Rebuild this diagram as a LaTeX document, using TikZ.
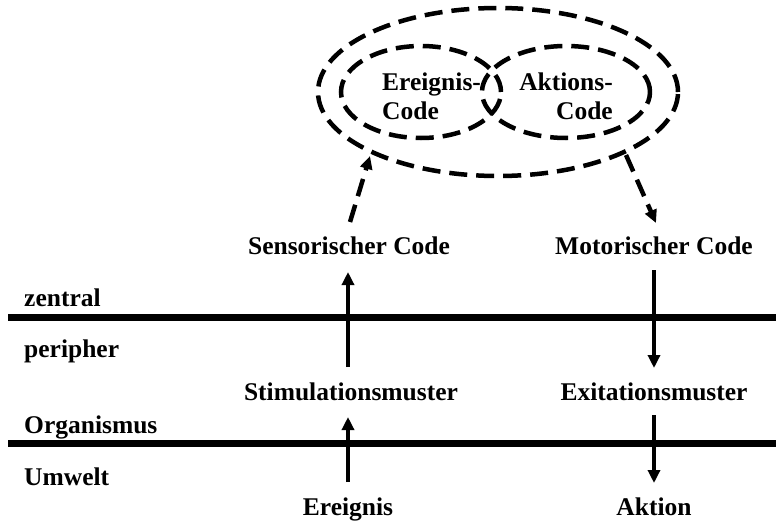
\documentclass[tikz,border=0pt]{standalone}
\usepackage{fontspec}
\setmainfont{Liberation Serif}
\usetikzlibrary{arrows.meta,shapes.geometric}
\tikzset{
  lbl/.style={font=\fontsize{25.5}{29}\selectfont\bfseries, inner sep=0pt},
  dashline/.style={line width=4.5pt, dash pattern=on 18pt off 9pt},
  ell/.style={draw, dashline, ellipse, inner sep=0pt},
  bar/.style={line width=7pt},
  arr/.style={line width=3.5pt, -{Triangle[length=13pt,width=12pt]}},
  darr/.style={dashline, -{Triangle[length=13pt,width=12pt]}}
}
\begin{document}
\begin{tikzpicture}[x=1pt,y=-1pt]
\useasboundingbox (0,0) rectangle (776,524);
% ellipses
\node[ell, minimum width=360pt, minimum height=168pt] (outer) at (498,92) {};
\node[ell, minimum width=160pt, minimum height=92pt] (left) at (421,92) {};
\node[ell, minimum width=168pt, minimum height=92pt] (right) at (566,92) {};
\node[lbl, align=left, anchor=west] (ec) at (382,96) {Ereignis-\\Code};
\node[lbl, align=right, anchor=east] (ac) at (613,96) {Aktions-\\Code};
% text nodes
\node[lbl, anchor=base] (sc) at (349,254) {Sensorischer Code};
\node[lbl, anchor=base] (mc) at (654,254) {Motorischer Code};
\node[lbl, anchor=base] (sm) at (351,400) {Stimulationsmuster};
\node[lbl, anchor=base] (em) at (654,400) {Exitationsmuster};
\node[lbl, anchor=base] (er) at (348,515) {Ereignis};
\node[lbl, anchor=base] (ak) at (654,515) {Aktion};
\node[lbl, anchor=base west] (z) at (24,306) {zentral};
\node[lbl, anchor=base west] (p) at (24,357) {peripher};
\node[lbl, anchor=base west] (o) at (24,433) {Organismus};
\node[lbl, anchor=base west] (u) at (24,485) {Umwelt};
% bars
\coordinate (b1l) at (8,317); \coordinate (b1r) at (776,317);
\coordinate (b2l) at (8,443); \coordinate (b2r) at (776,443);
\draw[bar] (b1l) -- (b1r);
\draw[bar] (b2l) -- (b2r);
% solid arrows
\coordinate (a1s) at (348,367); \coordinate (a1e) at (348,272);
\coordinate (a2s) at (348,482); \coordinate (a2e) at (348,417);
\coordinate (a3s) at (654,270); \coordinate (a3e) at (654,368);
\coordinate (a4s) at (654,415); \coordinate (a4e) at (654,483);
\draw[arr] (a1s) -- (a1e);
\draw[arr] (a2s) -- (a2e);
\draw[arr] (a3s) -- (a3e);
\draw[arr] (a4s) -- (a4e);
% dashed arrows
\coordinate (d1s) at (350,222); \coordinate (d1e) at (370,156);
\coordinate (d2s) at (626,155); \coordinate (d2e) at (656,223);
\draw[darr] (d1s) -- (d1e);
\draw[darr] (d2s) -- (d2e);
\end{tikzpicture}
\end{document}
